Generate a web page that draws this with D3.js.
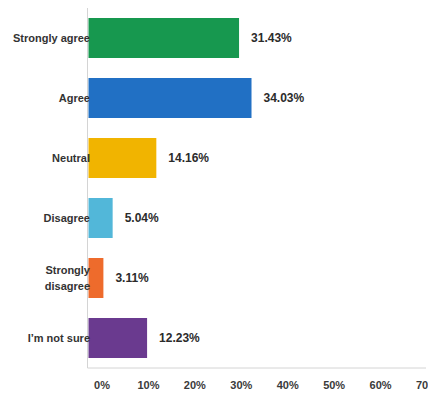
<!DOCTYPE html>
<html>
<head>
<meta charset="utf-8">
<script src="https://cdn.jsdelivr.net/npm/d3@7"></script>
<style>
  html, body { margin: 0; padding: 0; background: #ffffff; }
  svg { display: block; font-family: "Liberation Sans", Arial, sans-serif; }
</style>
</head>
<body>
<svg id="chart" width="428" height="395"></svg>
<script>
const categories = ["Strongly agree", "Agree", "Neutral", "Disagree", "Strongly disagree", "I\u2019m not sure"];
const values = [31.43, 34.03, 14.16, 5.04, 3.11, 12.23];
const colors = ["#17984f", "#2170c4", "#f1b400", "#52b7d9", "#ee6b2c", "#6a3a8f"];
const tickValues = [0, 10, 20, 30, 40, 50, 60, 70];
const labelLines = [["Strongly agree"], ["Agree"], ["Neutral"], ["Disagree"], ["Strongly", "disagree"], ["I\u2019m not sure"]];

(function () {
const svg = d3.select("#chart");
const plotLeft = 88.5, plotTop = 8, plotBottom = 368;

const x = d3.scaleLinear().domain([0, 70]).range([plotLeft, plotLeft + 70 * 4.79]);
// tick label placement as printed in the reference
const xLabels = d3.scaleLinear().domain([0, 70]).range([101.5, 426.5]);
const y = d3.scaleBand().domain(categories).range([plotTop, plotBottom]).paddingInner(1/3).paddingOuter(1/6);

// axis lines
svg.append("line").attr("x1", plotLeft - 1).attr("x2", plotLeft - 1).attr("y1", plotTop).attr("y2", plotBottom)
  .attr("stroke", "#d4d4d4").attr("stroke-width", 1);
svg.append("line").attr("x1", plotLeft - 1).attr("x2", 426).attr("y1", plotBottom).attr("y2", plotBottom)
  .attr("stroke", "#d4d4d4").attr("stroke-width", 1);

// bars
svg.selectAll("rect.bar").data(categories).enter().append("rect")
  .attr("class", "bar")
  .attr("x", x(0))
  .attr("y", d => y(d))
  .attr("width", (d, i) => x(values[i]) - x(0))
  .attr("height", y.bandwidth())
  .attr("fill", (d, i) => colors[i]);

// value labels
svg.selectAll("text.val").data(categories).enter().append("text")
  .attr("class", "val")
  .attr("x", (d, i) => x(values[i]) + 12)
  .attr("y", d => y(d) + y.bandwidth() / 2)
  .attr("dy", "0.35em")
  .attr("font-size", 12).attr("font-weight", "bold").attr("fill", "#2b2b2b")
  .text((d, i) => values[i].toFixed(2) + "%");

// category labels
const cat = svg.selectAll("text.cat").data(categories).enter().append("text")
  .attr("class", "cat")
  .attr("text-anchor", "end")
  .attr("font-size", 11).attr("font-weight", "bold").attr("fill", "#333333")
  .attr("x", 90)
  .attr("y", d => y(d) + y.bandwidth() / 2);
cat.each(function(d, i) {
  const lines = labelLines[i];
  const n = lines.length;
  d3.select(this).selectAll("tspan").data(lines).enter().append("tspan")
    .attr("x", 90)
    .attr("dy", (l, j) => j === 0 ? (0.35 - (n - 1) * 0.75) + "em" : "1.5em")
    .text(l => l);
});

// x axis tick labels
const axis = d3.axisBottom(xLabels).tickValues(tickValues).tickSize(0).tickPadding(0)
  .tickFormat(d => d + "%");
const g = svg.append("g").attr("transform", `translate(0, ${plotBottom + 13})`).call(axis);
g.select(".domain").remove();
g.selectAll("text").attr("font-size", 11).attr("font-weight", "bold").attr("fill", "#3a3a3a")
  .attr("font-family", "Liberation Sans, Arial, sans-serif");
})();
</script>
</body>
</html>
